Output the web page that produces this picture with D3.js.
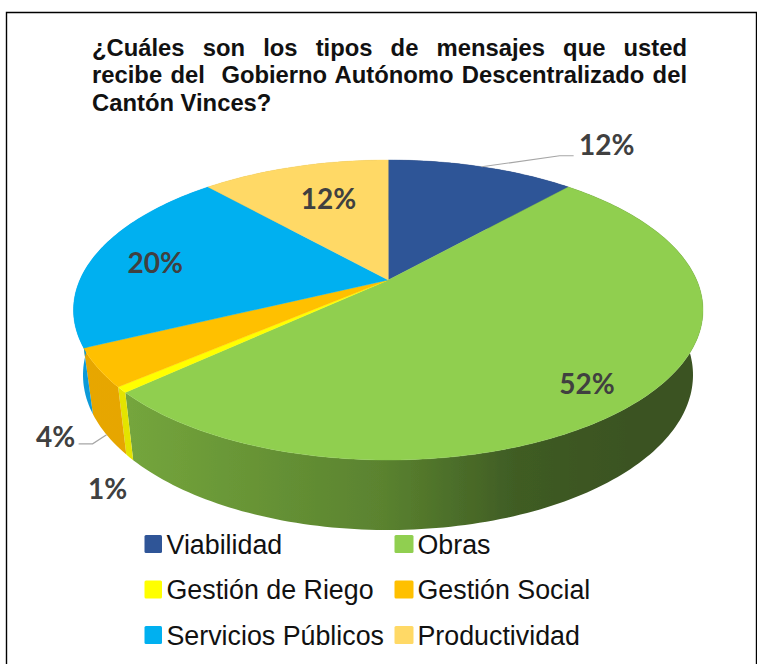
<!DOCTYPE html>
<html>
<head>
<meta charset="utf-8">
<script src="https://cdnjs.cloudflare.com/ajax/libs/d3/7.8.5/d3.min.js"></script>
<style>html,body{margin:0;padding:0;background:#fff;overflow:hidden}svg{display:block}</style>
</head>
<body>
<svg id="c" width="757" height="664"></svg>
<script>
const categories = ["Viabilidad","Obras","Gestión de Riego","Gestión Social","Servicios Públicos","Productividad"];
const values = [11.7,51.5,0.6,4.1,20.4,11.7];
const valueLabels = ["12%","52%","1%","4%","20%","12%"];
const colors = ["#2f5597","#90cf50","#ffff00","#ffc000","#00b0f0","#ffd966"];
const sideColors = [["#1f3864","#1f3864"],["#74a53c","#3a5222"],["#e6e600","#d8d800"],["#e9a800","#d89b00"],["#0a9ad8","#0a9ad8"],["#c9a94f","#c9a94f"]];
const titleLines = ["¿Cuáles son los tipos de mensajes que usted","recibe del  Gobierno Autónomo Descentralizado del","Cantón Vinces?"];

const svg = d3.select("#c");
const defs = svg.append("defs");
defs.append("filter").attr("id","soft").append("feGaussianBlur").attr("stdDeviation",0.55);

svg.append("path").attr("d","M6.5 670V12.5H756.5V670").attr("fill","none").attr("stroke","#000").attr("stroke-width",1.4);

// title, justified
const title = svg.append("g").attr("font-family","'Liberation Sans',Arial,sans-serif").attr("font-weight","bold").attr("font-size",23.8).attr("fill","#111");
const titleLeft = 92, titleRight = 687;
titleLines.forEach((t,i)=>{
  const el = title.append("text").attr("x",titleLeft).attr("y",[56,83,111][i]).attr("xml:space","preserve").style("white-space","pre").text(t);
  if(i<2){
    const w = el.node().getComputedTextLength();
    const gaps = t.split(" ").length-1;
    const extra = titleRight-titleLeft-w;
    if(extra>=0) el.attr("word-spacing",extra/gaps);
    else el.attr("textLength",titleRight-titleLeft).attr("lengthAdjust","spacingAndGlyphs");
  }
});

// pie geometry with a perspective map from the unit circle onto the ellipse
const a = -0.2;
const xTop = d3.scaleLinear().domain([-1,1]).range([73.5,703]);
const yTop = d3.scaleLinear().domain([-1,1]).range([160,460]);
const xBot = d3.scaleLinear().domain([-1,1]).range([83,693]);
const yBot = d3.scaleLinear().domain([-1,1]).range([220,530]);
function unit(ang,r=1){
  const u = r*Math.sin(ang), v = -r*Math.cos(ang), d = 1+a*v;
  return [Math.sqrt(1-a*a)*u/d,(v+a)/d];
}
const rimTop = ang => { const p = unit(ang); return [xTop(p[0]),yTop(p[1])]; };
const rimBot = ang => { const p = unit(ang); return [xBot(p[0]),yBot(p[1])]; };
const apex = (()=>{ const p = unit(0,0); return [xTop(p[0]),yTop(p[1])]; })();
const line = d3.line();
const steps = (s,e)=>{ const n=Math.max(2,Math.ceil((e-s)/0.02)); return d3.range(n+1).map(i=>s+(e-s)*i/n); };

const arcs = d3.pie().sort(null).value(d=>d)(values);
const pieG = svg.append("g").attr("filter","url(#soft)");

arcs.forEach((d,i)=>{
  const g = defs.append("linearGradient").attr("id","side"+i).attr("gradientUnits","userSpaceOnUse")
    .attr("x1",i===1?130:0).attr("x2",i===1?640:757).attr("y1",0).attr("y2",0);
  g.append("stop").attr("offset",0).attr("stop-color",sideColors[i][0]);
  if(i===1){
    g.append("stop").attr("offset",0.5).attr("stop-color","#5a822f");
    g.append("stop").attr("offset",0.76).attr("stop-color","#3f5c24");
  }
  g.append("stop").attr("offset",1).attr("stop-color",sideColors[i][1]);
  const st = steps(d.startAngle,d.endAngle);
  pieG.append("path").attr("d",line(st.map(rimTop).concat(st.slice().reverse().map(rimBot)))+"Z")
    .attr("fill",`url(#side${i})`);
});
arcs.forEach((d,i)=>{
  const st = steps(d.startAngle,d.endAngle);
  pieG.append("path").attr("d",line([apex].concat(st.map(rimTop)))+"Z").attr("fill",colors[i]).attr("stroke",colors[i]).attr("stroke-width",0.4);
});

// leaders and data labels
const labelSpec = [
  {rim:"top",t:1,dx:125,dy:-22,leader:[[78,-11],[92,-11]]},
  {rim:"top",t:0.8,dx:-5,dy:10},
  {rim:"bot",t:1,dx:-22,dy:32},
  {rim:"bot",t:1,dx:-51,dy:2,leader:[[-14,9],[-28,9]]},
  {rim:"top",t:0.8,dx:0,dy:5},
  {rim:"top",t:0.65,dx:1,dy:-7}
];
const labels = svg.append("g").attr("font-family","Lato,'Open Sans',sans-serif").attr("font-weight","bold").attr("font-size",28).attr("fill","#404040").attr("text-anchor","middle");
arcs.forEach((d,i)=>{
  const s = labelSpec[i], mid = (d.startAngle+d.endAngle)/2;
  const rp = s.rim==="top"?rimTop(mid):rimBot(mid);
  const base = [apex[0]+(rp[0]-apex[0])*s.t, apex[1]+(rp[1]-apex[1])*s.t];
  if(s.leader){
    svg.append("path").attr("fill","none").attr("stroke","#a6a6a6").attr("stroke-width",1.2)
      .attr("d",line([rp].concat(s.leader.map(o=>[rp[0]+o[0],rp[1]+o[1]]))));
  }
  labels.append("text").attr("x",base[0]+s.dx).attr("y",base[1]+s.dy).attr("dy","0.35em").text(valueLabels[i]);
});

// legend
const legX = d3.scaleOrdinal().domain([0,1]).range([144.5,394.5]);
const legY = d3.scalePoint().domain([0,1,2]).range([535,626]);
const leg = svg.append("g").attr("font-family","'Liberation Sans',Arial,sans-serif").attr("font-size",26.8).attr("fill","#111");
categories.forEach((c,i)=>{
  const col=i%2,row=Math.floor(i/2);
  leg.append("rect").attr("x",legX(col)).attr("y",legY(row)).attr("width",col?19:17.5).attr("height",18).attr("rx",1.5).attr("fill",colors[i]);
  leg.append("text").attr("x",legX(col)+(col?23:22)).attr("y",legY(row)+18.5).text(c);
});
</script>
</body>
</html>
